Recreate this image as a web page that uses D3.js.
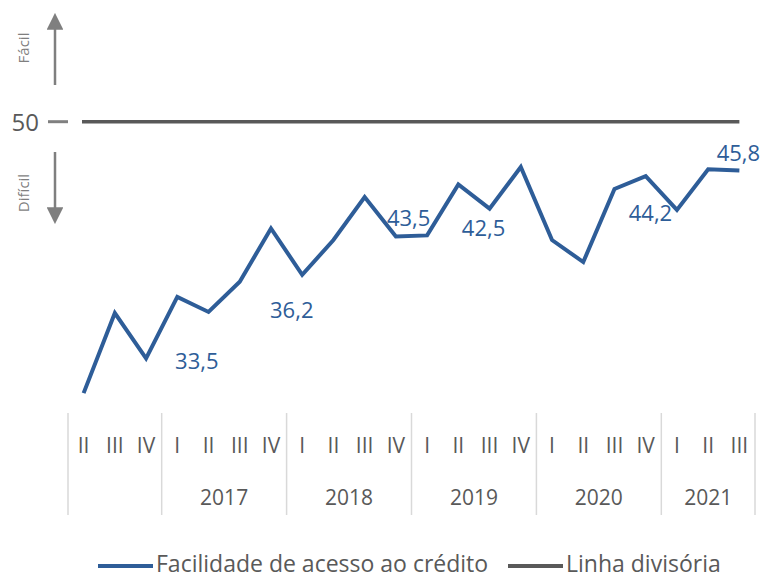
<!DOCTYPE html>
<html>
<head>
<meta charset="utf-8">
<script src="https://cdn.jsdelivr.net/npm/d3@7"></script>
<style>
  body { margin: 0; background: #fff; }
  svg { font-family: "Open Sans", "Noto Sans", sans-serif; }
</style>
</head>
<body>
<svg id="chart" width="775" height="578"></svg>
<script>
// Quarters shown on the x axis, 2016 II .. 2021 III
const years = ['2016', '2017', '2018', '2019', '2020', '2021'];
const yearLabels = ['', '2017', '2018', '2019', '2020', '2021'];
const quarterNames = ['I', 'II', 'III', 'IV'];
const quartersPerYear = [['II', 'III', 'IV'], quarterNames, quarterNames,
                         quarterNames, quarterNames, ['I', 'II', 'III']];

// Facilidade de acesso ao crédito (index)
const facilidade = [26.6, 33.5, 29.6, 34.9, 33.6, 36.2, 40.8, 36.8, 39.8, 43.5,
                    40.1, 40.2, 44.6, 42.5, 46.1, 39.8, 37.9, 44.2, 45.3, 42.4,
                    45.9, 45.8];
const divisoria = 50;

// Labelled points (every third quarter)
const labelIndex = [1, 5, 9, 13, 17, 21];
const labelText = ['33,5', '36,2', '43,5', '42,5', '44,2', '45,8'];
const labelOffset = [[82, 48], [52, 28], [44, 21], [-6, 19], [36, 24], [-1, -17]];

const blue = '#2e5d98';
const darkGray = '#595959';
const arrowGray = '#7f7f7f';

const margin = {left: 68, right: 20, top: 6};
const plotBottom = 411.7;

const svg = d3.select('#chart');

// Flatten the quarter list
const quarters = [];
quartersPerYear.forEach((qs, yi) => qs.forEach(q => quarters.push({year: years[yi], q})));

const x = d3.scaleBand()
    .domain(d3.range(quarters.length))
    .range([margin.left, 775 - margin.right]);

const y = d3.scaleLinear().domain([25, 60]).range([plotBottom, 5.7]);

// Year separators
const sepIdx = [0];
quartersPerYear.reduce((acc, qs) => { acc += qs.length; sepIdx.push(acc); return acc; }, 0);
const sepX = i => i < quarters.length ? x(i) : x.range()[1];
svg.append('g').selectAll('line').data(sepIdx).join('line')
    .attr('x1', sepX).attr('x2', sepX)
    .attr('y1', 413).attr('y2', 515)
    .attr('stroke', '#d9d9d9').attr('stroke-width', 1.5);

// Quarter labels
svg.append('g').selectAll('text').data(quarters).join('text')
    .attr('x', (d, i) => x(i) + x.bandwidth() / 2)
    .attr('y', 452.5)
    .attr('text-anchor', 'middle')
    .attr('font-size', 21).attr('fill', darkGray)
    .text(d => d.q);

// Year labels
svg.append('g').selectAll('text').data(yearLabels).join('text')
    .attr('x', (d, i) => (sepX(sepIdx[i]) + sepX(sepIdx[i + 1])) / 2)
    .attr('y', 504.5)
    .attr('text-anchor', 'middle')
    .attr('font-size', 21).attr('fill', darkGray)
    .text(d => d);

// 50 tick + label
svg.append('line')
    .attr('x1', 48).attr('x2', 68)
    .attr('y1', y(divisoria)).attr('y2', y(divisoria))
    .attr('stroke', '#808080').attr('stroke-width', 3);
svg.append('text')
    .attr('x', 39).attr('y', y(divisoria) + 9)
    .attr('text-anchor', 'end')
    .attr('font-size', 24).attr('fill', darkGray)
    .text(divisoria);

// Linha divisória
svg.append('line')
    .attr('x1', x(0) + 14).attr('x2', x(quarters.length - 1) + x.bandwidth() / 2)
    .attr('y1', y(divisoria)).attr('y2', y(divisoria))
    .attr('stroke', darkGray).attr('stroke-width', 3.5);

// Arrows
const defs = svg.append('defs');
defs.append('marker')
    .attr('id', 'head').attr('viewBox', '0 0 10 10')
    .attr('refX', 1).attr('refY', 5)
    .attr('markerWidth', 6.7).attr('markerHeight', 6.7)
    .attr('markerUnits', 'strokeWidth')
    .attr('orient', 'auto')
    .append('path').attr('d', 'M0,0 L10,5 L0,10 Z').attr('fill', arrowGray);

svg.append('line')
    .attr('x1', 55).attr('x2', 55).attr('y1', 85).attr('y2', 28)
    .attr('stroke', arrowGray).attr('stroke-width', 2.5)
    .attr('marker-end', 'url(#head)');
svg.append('line')
    .attr('x1', 55).attr('x2', 55).attr('y1', 152).attr('y2', 209)
    .attr('stroke', arrowGray).attr('stroke-width', 2.5)
    .attr('marker-end', 'url(#head)');

svg.append('text')
    .attr('transform', 'translate(29,48) rotate(-90)')
    .attr('text-anchor', 'middle')
    .attr('font-size', 15).attr('fill', arrowGray)
    .text('Fácil');
svg.append('text')
    .attr('transform', 'translate(29,193) rotate(-90)')
    .attr('text-anchor', 'middle')
    .attr('font-size', 15).attr('fill', arrowGray)
    .text('Difícil');

// Main series
const line = d3.line()
    .x((d, i) => x(i) + x.bandwidth() / 2)
    .y(d => y(d));

svg.append('path')
    .datum(facilidade)
    .attr('d', line)
    .attr('fill', 'none')
    .attr('stroke', blue).attr('stroke-width', 4)
    .attr('stroke-linejoin', 'miter');

// Data labels
svg.append('g').selectAll('text').data(labelIndex).join('text')
    .attr('x', (d, k) => x(d) + x.bandwidth() / 2 + labelOffset[k][0])
    .attr('y', (d, k) => y(facilidade[d]) + labelOffset[k][1] + 8)
    .attr('text-anchor', 'middle')
    .attr('font-size', 22).attr('fill', blue)
    .text((d, k) => labelText[k]);

// Legend
const legend = [
  {name: 'Facilidade de acesso ao crédito', color: blue, x: 98},
  {name: 'Linha divisória', color: darkGray, x: 508}
];
const lg = svg.append('g').selectAll('g').data(legend).join('g')
    .attr('transform', d => `translate(${d.x},566)`);
lg.append('line')
    .attr('x1', 0).attr('x2', 55)
    .attr('stroke', d => d.color).attr('stroke-width', 4);
lg.append('text')
    .attr('x', 58).attr('y', 6)
    .attr('font-size', 23).attr('fill', darkGray)
    .text(d => d.name);
</script>
</body>
</html>
